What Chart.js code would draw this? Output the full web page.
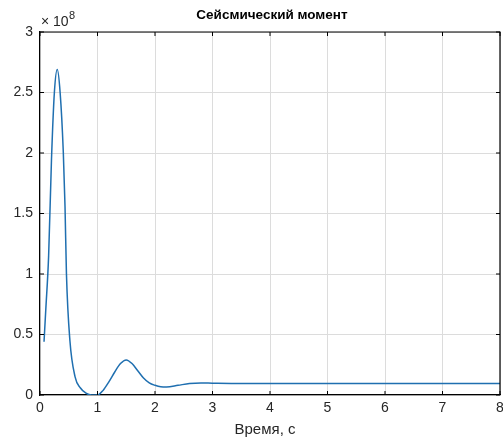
<!DOCTYPE html>
<html lang="ru">
<head>
    <meta charset="UTF-8">
    <title>Сейсмический момент</title>
    <script src="https://cdn.jsdelivr.net/npm/chart.js"></script>
    <style>
        html, body { margin: 0; padding: 0; background: #fff; }
        #wrap { width: 503px; height: 441px; }
    </style>
</head>
<body>
<div id="wrap"><canvas id="momentChart"></canvas></div>
<script>
    // time, s
    const times = [0.07, 0.1, 0.15, 0.2, 0.25, 0.3, 0.35, 0.405, 0.435, 0.46, 0.52, 0.61, 0.7, 0.8, 0.9, 1.0,
        1.1, 1.2, 1.3, 1.4, 1.5, 1.6, 1.7, 1.8, 1.9, 2.0, 2.1, 2.2, 2.4, 2.6, 2.8, 3.0, 3.5, 4, 5, 6, 7, 8];
    // moment, x10^8
    const moment = [0.44, 0.7, 1.15, 1.95, 2.5, 2.69, 2.5, 2.01, 1.56, 1.0, 0.45, 0.15, 0.06, 0.015, 0.0, 0.0,
        0.04, 0.11, 0.19, 0.26, 0.29, 0.26, 0.2, 0.14, 0.1, 0.08, 0.068, 0.066, 0.08, 0.095, 0.1, 0.098, 0.095, 0.095, 0.095, 0.095, 0.095, 0.095];
    const yTicks = [0, 0.5, 1, 1.5, 2, 2.5, 3];
    const yTickLabels = ['0', '0.5', '1', '1.5', '2', '2.5', '3'];
    const xTicks = [0, 1, 2, 3, 4, 5, 6, 7, 8];

    const FONT = '"Liberation Sans", Arial, sans-serif';
    const TXT = '#262626';

    // box, inward ticks, title, x label and exponent label in MATLAB style
    const matlabFrame = {
        id: 'matlabFrame',
        afterDraw(chart) {
            const { ctx, chartArea: a, scales: { x, y } } = chart;
            ctx.save();
            ctx.strokeStyle = '#000';
            ctx.lineWidth = 1.2;
            ctx.beginPath();
            ctx.moveTo(a.left, a.top); ctx.lineTo(a.right, a.top); ctx.lineTo(a.right, a.bottom);
            ctx.stroke();
            ctx.lineWidth = 1;
            ctx.beginPath();
            xTicks.forEach(v => {
                const px = x.getPixelForValue(v);
                ctx.moveTo(px, a.bottom); ctx.lineTo(px, a.bottom - 4);
                ctx.moveTo(px, a.top); ctx.lineTo(px, a.top + 4);
            });
            yTicks.forEach(v => {
                const py = y.getPixelForValue(v);
                ctx.moveTo(a.left, py); ctx.lineTo(a.left + 4, py);
                ctx.moveTo(a.right, py); ctx.lineTo(a.right - 4, py);
            });
            ctx.stroke();

            ctx.fillStyle = '#000';
            ctx.textAlign = 'center';
            ctx.textBaseline = 'middle';
            ctx.font = 'bold 13.5px ' + FONT;
            ctx.fillText('Сейсмический момент', 272, 15);

            ctx.fillStyle = TXT;
            ctx.font = '15px ' + FONT;
            ctx.fillText('Время, с', 265, 430);

            ctx.textAlign = 'left';
            ctx.font = '14px ' + FONT;
            ctx.fillText('× 10', a.left + 1, 22);
            ctx.font = '11px ' + FONT;
            ctx.fillText('8', a.left + 29, 16);
            ctx.restore();
        }
    };

    new Chart(document.getElementById('momentChart'), {
        type: 'line',
        data: {
            datasets: [{
                data: times.map((t, i) => ({ x: t, y: moment[i] })),
                borderColor: '#1f6fb0',
                borderWidth: 1.5,
                pointRadius: 0,
                cubicInterpolationMode: 'monotone',
                fill: false
            }]
        },
        options: {
            responsive: true,
            maintainAspectRatio: false,
            animation: false,
            layout: { padding: { top: 32, right: 3, left: 0, bottom: 0 } },
            plugins: { legend: { display: false }, tooltip: { enabled: false } },
            scales: {
                x: {
                    type: 'linear',
                    min: 0, max: 8,
                    afterBuildTicks: s => { s.ticks = xTicks.map(v => ({ value: v })); },
                    afterFit: s => { s.height = 46; s.paddingRight = 0; s.paddingLeft = 0; },
                    grid: { color: '#dcdcdc', drawTicks: false },
                    border: { color: '#000', width: 1.2 },
                    ticks: { color: TXT, font: { family: FONT, size: 14 }, padding: 5, maxRotation: 0 }
                },
                y: {
                    min: 0, max: 3,
                    afterBuildTicks: s => { s.ticks = yTicks.map(v => ({ value: v })); },
                    afterFit: s => { s.width = 40; },
                    grid: { color: '#dcdcdc', drawTicks: false },
                    border: { color: '#000', width: 1.2 },
                    ticks: {
                        color: TXT, font: { family: FONT, size: 14 }, padding: 7,
                        callback: v => yTickLabels[yTicks.indexOf(v)]
                    }
                }
            }
        },
        plugins: [matlabFrame]
    });
</script>
</body>
</html>
